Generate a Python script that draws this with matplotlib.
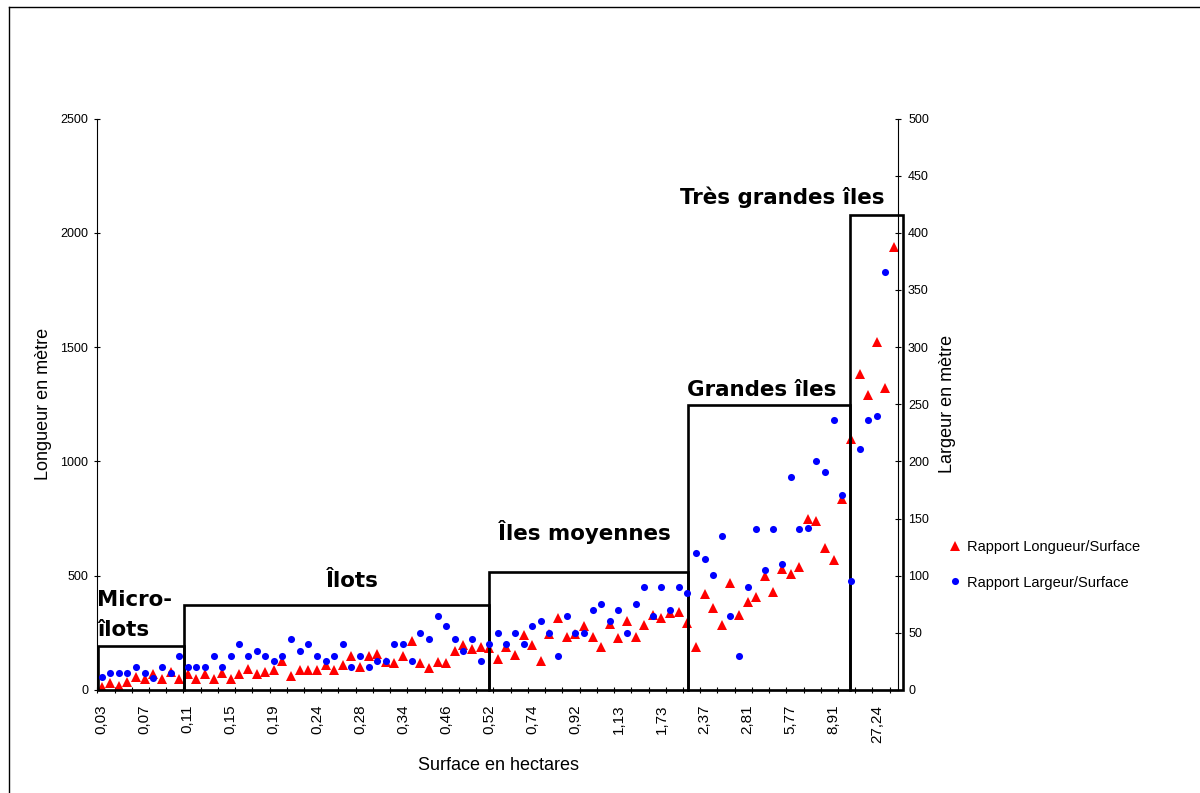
import numpy as np
import matplotlib
matplotlib.use("Agg")
import matplotlib.pyplot as plt
from matplotlib.patches import Rectangle
from matplotlib.lines import Line2D

plt.rcParams['font.family'] = ['Liberation Sans', 'DejaVu Sans']

# ---------------- data ----------------
surface_labels = ['0,03', '0,07', '0,11', '0,15', '0,19', '0,24', '0,28', '0,34',
                  '0,46', '0,52', '0,74', '0,92', '1,13', '1,73', '2,37', '2,81',
                  '5,77', '8,91', '27,24']
label_step = 5

longueur = [15, 29, 16, 36, 56, 47, 69, 50, 79, 50,
            69, 50, 69, 50, 76, 50, 70, 91, 70, 79,
            88, 127, 61, 88, 88, 88, 108, 88, 108, 149,
            101, 149, 156, 121, 117, 149, 216, 117, 96, 123,
            116, 169, 196, 181, 187, 184, 134, 187, 153, 241,
            196, 128, 246, 314, 233, 246, 280, 233, 187, 288,
            228, 302, 233, 286, 328, 314, 338, 340, 292, 188,
            420, 360, 286, 467, 328, 386, 406, 500, 429, 528,
            506, 540, 747, 740, 621, 568, 837, 1097, 1382, 1291,
            1522, 1323, 1940]

largeur = [11, 15, 15, 15, 20, 15, 10.5, 20, 15, 30,
           20, 20, 20, 30, 20, 30, 40, 30, 34, 30,
           25, 30, 45, 34, 40, 30, 25, 30, 40, 20,
           30, 20, 25, 25, 40, 40, 25, 50, 45, 65,
           56, 45, 34, 45, 25, 40, 50, 40, 50, 40,
           56, 60, 50, 30, 65, 50, 50, 70, 75, 60,
           70, 50, 75, 90, 65, 90, 70, 90, 85, 120,
           115, 101, 135, 65, 30, 90, 141, 105, 141, 110,
           186, 141, 142, 200, 191, 236, 171, 95, 211, 236,
           240, 366, np.nan]

group_names = ['Micro-\nîlots', 'Îlots', 'Îles moyennes', 'Grandes îles', 'Très grandes îles']

# ---------------- figure ----------------
W, H = 1200, 793
fig = plt.figure(figsize=(W / 100, H / 100), dpi=100)


def px(x, y):
    return x / W, 1 - y / H


ax_l, ax_r, ax_t, ax_b = 97.3, 898.3, 118.5, 690
ax = fig.add_axes([ax_l / W, 1 - ax_b / H, (ax_r - ax_l) / W, (ax_b - ax_t) / H])
ax2 = ax.twinx()

n = len(longueur)
cats = np.arange(n)

l1, = ax.plot(cats, longueur, linestyle='none', marker='^', color='#FF0000',
              markersize=6.8, markeredgewidth=0, label='Rapport Longueur/Surface', zorder=3)
l2, = ax2.plot(cats, largeur, linestyle='none', marker='o', color='#0000FF',
               markersize=5.1, markeredgewidth=0, label='Rapport Largeur/Surface', zorder=3)

ax.set_xlim(-0.5, n - 0.5)
ax.set_ylim(0, 2500)
ax2.set_ylim(0, 500)
ax.set_yticks(np.arange(0, 2501, 500))
ax2.set_yticks(np.arange(0, 501, 50))

ax.set_xticks(cats[::label_step])
ax.set_xticklabels(surface_labels, rotation=90, fontsize=11)
ax.set_xticks(np.arange(-0.5, n, 2), minor=True)
ax.tick_params(axis='x', which='major', length=0, pad=10.5)
ax.tick_params(axis='x', which='minor', direction='inout', length=5, width=0.8)
ax.tick_params(axis='y', direction='inout', length=5, width=0.8, labelsize=9, pad=4)
ax2.tick_params(axis='y', direction='inout', length=5, width=0.8, labelsize=9, pad=4.5)

for a in (ax, ax2):
    a.spines['top'].set_visible(False)
    for s in ('left', 'right', 'bottom'):
        a.spines[s].set_linewidth(0.8)
        a.spines[s].set_color('black')
ax2.spines['left'].set_visible(False)
ax.spines['right'].set_visible(False)

ax.set_ylabel('Longueur en mètre', fontsize=13, va='center')
ax.yaxis.set_label_coords((43 - ax_l) / (ax_r - ax_l), 0.5)
ax2.set_ylabel('Largeur en mètre', fontsize=13, va='center', rotation=90)
ax2.yaxis.set_label_coords((947 - ax_l) / (ax_r - ax_l), 0.5)
ax.set_xlabel('Surface en hectares', fontsize=13, va='center')
ax.xaxis.set_label_coords((498 - ax_l) / (ax_r - ax_l), (ax_b - 766) / (ax_b - ax_t))

# ---------------- group boxes ----------------
box_edges = [-0.47, 9.57, 45.0, 68.1, 86.95, 93.0]
box_tops = [193, 374, 516, 1247, 2077]
for i in range(len(box_tops)):
    r = Rectangle((box_edges[i], 0), box_edges[i + 1] - box_edges[i], box_tops[i],
                  fill=False, edgecolor='black', linewidth=1.9, clip_on=False, zorder=4)
    ax.add_patch(r)

bold = dict(family=['DejaVu Sans'], fontweight='bold', fontsize=15.4, color='black')
fig.text(*px(97, 590), group_names[0], ha='left', va='top', linespacing=1.62, **bold)
fig.text(*px(352, 587), group_names[1], ha='center', va='baseline', **bold)
fig.text(*px(584, 539.5), group_names[2], ha='center', va='baseline', **bold)
fig.text(*px(762, 396), group_names[3], ha='center', va='baseline', **bold)
fig.text(*px(782, 203.5), group_names[4], ha='center', va='baseline', **bold)

# ---------------- legend ----------------
fs_leg = 10.5
fig.legend(handles=[l1, l2], loc='center left', bbox_to_anchor=px(947.5, 565),
           frameon=False, fontsize=fs_leg, borderpad=0, borderaxespad=0,
           handlelength=1.0, handletextpad=0.35, labelspacing=1.45, numpoints=1)

# chart-area border
fig.add_artist(Line2D([9 / W, 9 / W], [0, 1 - 7 / H], transform=fig.transFigure,
                      color='black', linewidth=1))
fig.add_artist(Line2D([9 / W, 1], [1 - 7 / H, 1 - 7 / H], transform=fig.transFigure,
                      color='black', linewidth=1))

fig.savefig('out.png', dpi=100)
